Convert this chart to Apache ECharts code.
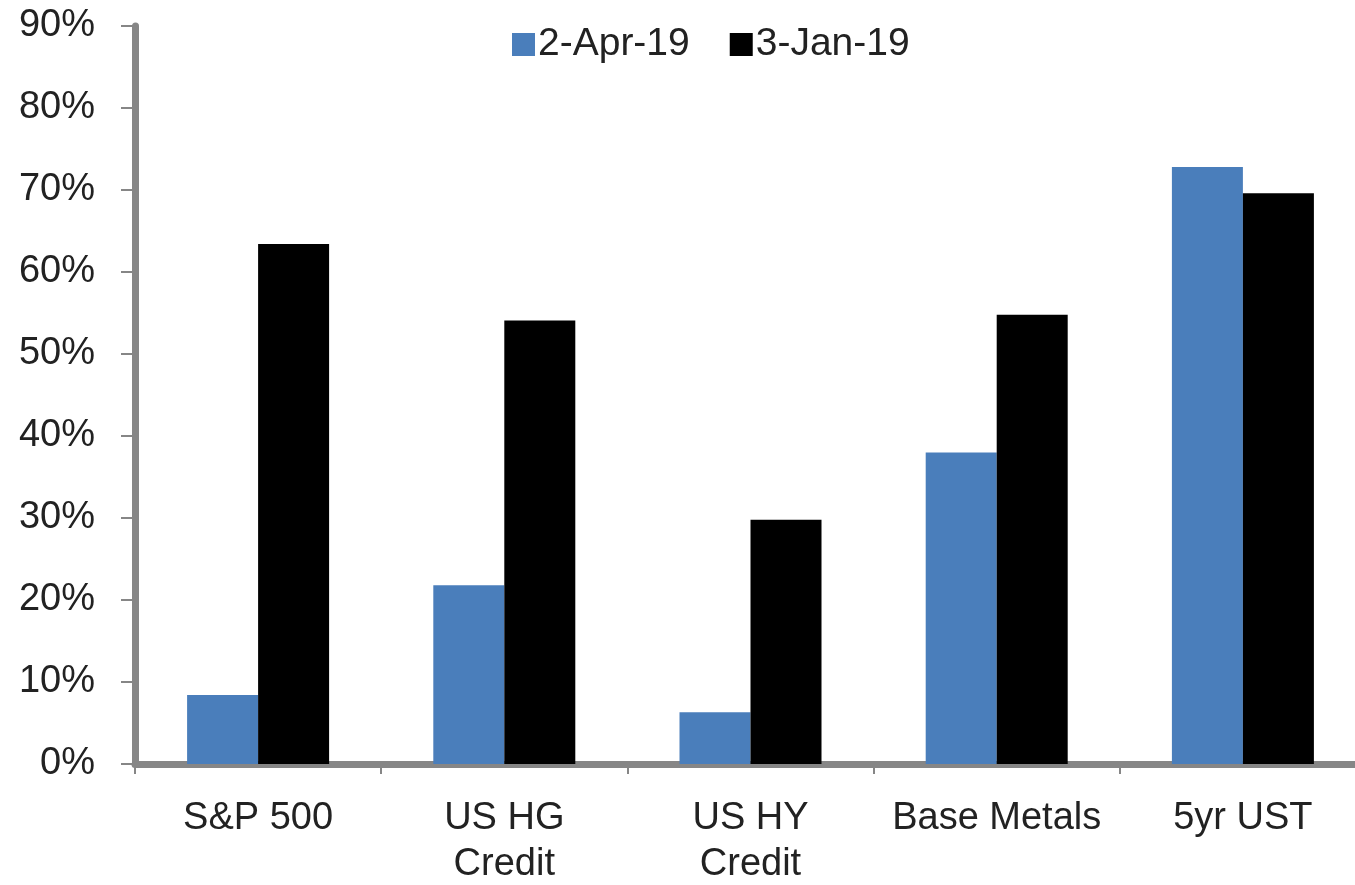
<!DOCTYPE html>
<html lang="en">
<head>
    <meta charset="UTF-8">
    <title>Bar chart</title>
    <script src="https://cdn.jsdelivr.net/npm/echarts@6/dist/echarts.min.js"></script>
    <style>
        html, body { margin: 0; padding: 0; background: #fff; }
        #chart { width: 1355px; height: 885px; }
    </style>
</head>
<body>
    <div id="chart"></div>
    <script>
        // categories and values (percent)
        let categories = ["S&P 500", "US HG\nCredit", "US HY\nCredit", "Base Metals", "5yr UST"];
        let seriesNames = ["2-Apr-19", "3-Jan-19"];
        let aprValues = [8.4, 21.8, 6.3, 38.0, 72.8];
        let janValues = [63.4, 54.1, 29.8, 54.8, 69.6];

        let fontFamily = "'Liberation Sans', Arial, sans-serif";

        let chart = echarts.init(document.getElementById("chart"));
        chart.setOption({
            animation: false,
            backgroundColor: "#fff",
            legend: {
                top: 20,
                left: 507,
                itemWidth: 23,
                itemHeight: 23,
                itemGap: 40,
                icon: "rect",
                textStyle: { fontSize: 39, color: "#222", fontFamily: fontFamily, padding: [0, 0, 0, -2] },
                data: seriesNames
            },
            // plot area runs a little past the right edge of the picture
            grid: { left: 135, width: 1231, top: 26, bottom: 121, outerBoundsMode: "none" },
            xAxis: {
                type: "category",
                data: categories,
                axisLine: { lineStyle: { color: "#868686", width: 7 } },
                axisTick: { show: true, length: 10, lineStyle: { color: "#868686", width: 2 } },
                axisLabel: {
                    fontSize: 38,
                    color: "#222",
                    fontFamily: fontFamily,
                    margin: 32,
                    lineHeight: 46,
                    interval: 0
                }
            },
            yAxis: {
                type: "value",
                min: 0,
                max: 90,
                interval: 10,
                splitLine: { show: false },
                axisLine: { show: true, lineStyle: { color: "#868686", width: 7 } },
                axisTick: { show: true, length: 14, lineStyle: { color: "#868686", width: 2 } },
                axisLabel: {
                    formatter: "{value}%",
                    fontSize: 38,
                    color: "#222",
                    fontFamily: fontFamily,
                    margin: 40
                }
            },
            series: [
                {
                    name: seriesNames[0],
                    type: "bar",
                    data: aprValues,
                    itemStyle: { color: "#4a7ebb" },
                    barWidth: 71,
                    barGap: "0%"
                },
                {
                    name: seriesNames[1],
                    type: "bar",
                    data: janValues,
                    itemStyle: { color: "#000000" },
                    barWidth: 71,
                    barGap: "0%"
                }
            ]
        });
    </script>
</body>
</html>
